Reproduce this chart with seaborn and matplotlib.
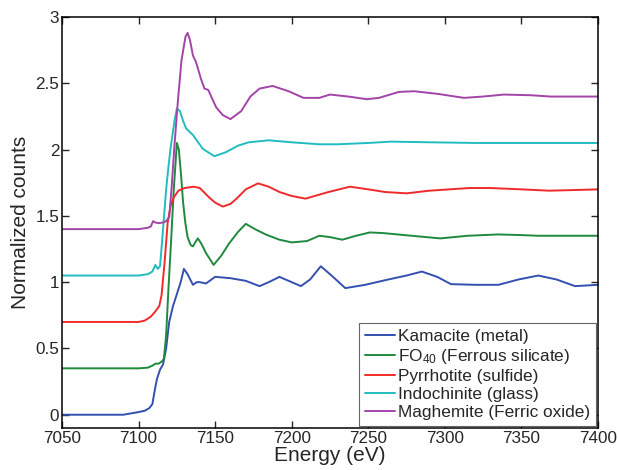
import matplotlib

matplotlib.use("Agg")

import matplotlib.pyplot as plt
import pandas as pd
import seaborn as sns

# Fe K-edge XANES spectra, offset for clarity
kamacite_e = [7050, 7090, 7100, 7104, 7107, 7109, 7110.5, 7112, 7114, 7116, 7118, 7120, 7122.5, 7125,
              7127.5, 7129.6, 7132, 7135.5, 7138, 7140, 7144, 7150, 7160, 7170, 7179, 7185, 7192, 7200,
              7206, 7212, 7219, 7226, 7235, 7248, 7263, 7275, 7285, 7295, 7304, 7320, 7335, 7348, 7361,
              7373, 7385, 7400]
kamacite_v = [0, 0, 0.02, 0.03, 0.05, 0.08, 0.18, 0.27, 0.34, 0.38, 0.5, 0.70, 0.82, 0.91,
              1.0, 1.10, 1.06, 0.98, 1.0, 1.0, 0.99, 1.04, 1.03, 1.01, 0.97, 1.0, 1.04, 1.0,
              0.97, 1.02, 1.12, 1.05, 0.955, 0.98, 1.02, 1.05, 1.08, 1.04, 0.985, 0.98, 0.98, 1.02, 1.05,
              1.02, 0.97, 0.98]

fo40_e = [7050, 7100, 7106, 7109, 7111, 7113, 7115, 7116.5, 7118, 7119.5, 7121, 7123, 7125, 7126.3,
          7127.8, 7129, 7130.5, 7132, 7134, 7135.5, 7137, 7138.7, 7141, 7144, 7149, 7154, 7159, 7165,
          7170, 7176, 7183, 7192, 7200, 7210, 7218, 7225, 7233, 7242, 7251, 7260, 7269, 7283, 7297,
          7315, 7335, 7350, 7361, 7380, 7400]
fo40_v = [0.35, 0.35, 0.355, 0.37, 0.385, 0.385, 0.40, 0.42, 0.6, 0.95, 1.26, 1.7, 2.05, 2.0,
          1.8, 1.61, 1.45, 1.34, 1.28, 1.27, 1.30, 1.33, 1.29, 1.22, 1.13, 1.2, 1.29, 1.38,
          1.44, 1.40, 1.36, 1.32, 1.30, 1.31, 1.35, 1.34, 1.32, 1.35, 1.375, 1.37, 1.36, 1.345, 1.33,
          1.35, 1.36, 1.355, 1.35, 1.35, 1.35]

pyrrhotite_e = [7050, 7100, 7104, 7108, 7111, 7113.5, 7115, 7117, 7119, 7121, 7123, 7126, 7130, 7136,
                7140, 7146, 7150, 7155, 7160, 7164, 7170, 7178, 7185, 7192, 7200, 7209, 7218, 7224,
                7231, 7238, 7250, 7261, 7275, 7290, 7303, 7316, 7330, 7350, 7368, 7385, 7400]
pyrrhotite_v = [0.70, 0.70, 0.71, 0.74, 0.78, 0.82, 0.9, 1.15, 1.45, 1.58, 1.64, 1.69, 1.71, 1.72,
                1.71, 1.64, 1.60, 1.57, 1.59, 1.63, 1.70, 1.745, 1.72, 1.68, 1.65, 1.63, 1.66, 1.68,
                1.70, 1.72, 1.70, 1.68, 1.67, 1.69, 1.70, 1.71, 1.71, 1.70, 1.69, 1.695, 1.70]

indochinite_e = [7050, 7100, 7106, 7109, 7111, 7112.5, 7114, 7116, 7118, 7119.5, 7121, 7123.5, 7125,
                 7127, 7129, 7131, 7135.5, 7142, 7149.5, 7157, 7165, 7172, 7185, 7200, 7218, 7230,
                 7250, 7265, 7290, 7320, 7350, 7400]
indochinite_v = [1.05, 1.05, 1.06, 1.08, 1.13, 1.10, 1.12, 1.40, 1.70, 1.87, 2.02, 2.22, 2.31,
                 2.29, 2.22, 2.16, 2.11, 2.005, 1.95, 1.98, 2.03, 2.055, 2.07, 2.055, 2.04, 2.04,
                 2.05, 2.06, 2.055, 2.05, 2.05, 2.05]

maghemite_e = [7050, 7100, 7106, 7108, 7109.5, 7111, 7113, 7116, 7118, 7120, 7121.5, 7123.5, 7125.7,
               7128, 7130.6, 7132, 7133.5, 7135.5, 7137.5, 7140.7, 7143, 7145.5, 7150.6, 7155, 7160,
               7167, 7173, 7179, 7187.5, 7198, 7207.7, 7218, 7225, 7237, 7249, 7257, 7270, 7280,
               7295.5, 7312.5, 7325, 7338.5, 7356, 7369, 7385, 7400]
maghemite_v = [1.40, 1.40, 1.41, 1.42, 1.46, 1.45, 1.445, 1.45, 1.46, 1.49, 1.7, 2.04, 2.37,
               2.67, 2.85, 2.88, 2.83, 2.71, 2.66, 2.535, 2.46, 2.45, 2.32, 2.26, 2.23,
               2.29, 2.40, 2.46, 2.48, 2.44, 2.39, 2.39, 2.415, 2.40, 2.38, 2.39, 2.435, 2.44,
               2.42, 2.39, 2.40, 2.415, 2.41, 2.40, 2.40, 2.40]

labels = ["Kamacite (metal)", "FO$_{40}$ (Ferrous silicate)", "Pyrrhotite (sulfide)",
          "Indochinite (glass)", "Maghemite (Ferric oxide)"]
colors = ["#3350b0", "#1f8a3e", "#f02a2a", "#22bcc0", "#a344a8"]
x_ticks = [7050, 7100, 7150, 7200, 7250, 7300, 7350, 7400]
y_ticks = [0, 0.5, 1, 1.5, 2, 2.5, 3]
y_tick_labels = ["0", "0.5", "1", "1.5", "2", "2.5", "3"]

series = [
    (kamacite_e, kamacite_v),
    (fo40_e, fo40_v),
    (pyrrhotite_e, pyrrhotite_v),
    (indochinite_e, indochinite_v),
    (maghemite_e, maghemite_v),
]

sns.set_style("ticks")
plt.rcParams["font.family"] = ["Liberation Sans", "DejaVu Sans"]
plt.rcParams["mathtext.default"] = "regular"

fig = plt.figure(figsize=(6.18, 4.70), dpi=100)
ax = fig.add_axes([62 / 618, 1 - 428 / 470, 536 / 618, 411 / 470])

for (energy, counts), label, color in zip(series, labels, colors):
    df = pd.DataFrame({"energy": energy, "counts": counts})
    sns.lineplot(data=df, x="energy", y="counts", color=color, linewidth=1.4,
                 label=label, sort=False, ax=ax)

ax.set_xlim(7050, 7400)
ax.set_ylim(-0.1, 3)
ax.set_xticks(x_ticks)
ax.set_yticks(y_ticks)
ax.set_yticklabels(y_tick_labels)
ax.tick_params(direction="in", top=True, right=True, length=5, width=1, labelsize=12.3, pad=2)
for spine in ax.spines.values():
    spine.set_linewidth(1.1)
    spine.set_color("black")
ax.set_xlabel("Energy (eV)", fontsize=15, labelpad=0)
ax.set_ylabel("Normalized counts", fontsize=15, labelpad=4)

leg = ax.legend(loc="lower right", fontsize=12.4, frameon=True, fancybox=False,
                edgecolor="#666666", framealpha=1, handlelength=1.75, handletextpad=0.2,
                labelspacing=0.18, borderpad=0.35, borderaxespad=0.1)
leg.get_frame().set_linewidth(0.8)

fig.savefig("out.png", dpi=100)
plt.close(fig)
